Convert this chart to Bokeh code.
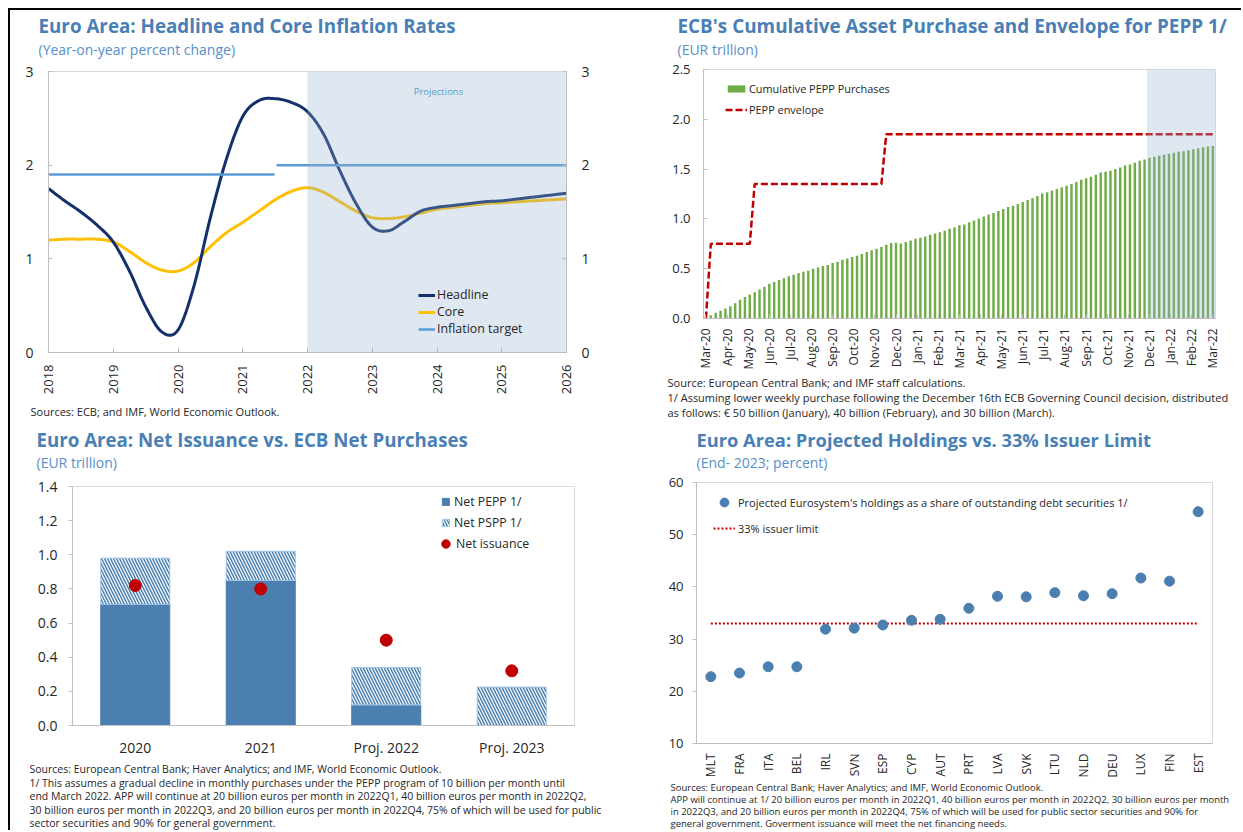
import numpy as np
from bokeh.plotting import figure
from bokeh.models import (ColumnDataSource, FixedTicker, LinearAxis, Label, Legend,
                          LegendItem, BoxAnnotation, FactorRange, Range1d, NumeralTickFormatter)
from bokeh.layouts import row, column
from bokeh.embed import file_html
from bokeh.resources import INLINE

# ---------------- DATA ----------------
# Panel 1: inflation (quarterly readings, year fraction)
infl_x = [2018.00, 2018.25, 2018.50, 2018.75, 2019.00, 2019.25, 2019.50, 2019.75,
          2020.00, 2020.25, 2020.50, 2020.75, 2021.00, 2021.25, 2021.50, 2021.75,
          2022.00, 2022.25, 2022.50, 2022.75, 2023.00, 2023.25, 2023.50, 2023.75,
          2024.00, 2024.25, 2024.50, 2024.75, 2025.00, 2025.25, 2025.50, 2025.75, 2026.00]
headline = [1.75, 1.62, 1.50, 1.36, 1.18, 0.87, 0.49, 0.22,
            0.24, 0.72, 1.44, 2.07, 2.52, 2.69, 2.71, 2.67,
            2.57, 2.33, 1.94, 1.59, 1.34, 1.30, 1.40, 1.51,
            1.55, 1.57, 1.59, 1.61, 1.62, 1.64, 1.66, 1.68, 1.70]
core = [1.20, 1.21, 1.21, 1.21, 1.18, 1.08, 0.96, 0.88,
        0.87, 0.96, 1.13, 1.28, 1.39, 1.51, 1.63, 1.72,
        1.76, 1.71, 1.61, 1.51, 1.44, 1.43, 1.45, 1.49,
        1.53, 1.55, 1.57, 1.59, 1.60, 1.61, 1.62, 1.63, 1.64]
target_x0 = [2018.0, 2021.52]
target_x1 = [2021.49, 2026.0]
target_val = [1.9, 2.0]
infl_years = [2018, 2019, 2020, 2021, 2022, 2023, 2024, 2025, 2026]
proj_start_year = 2022

# Panel 2: weekly cumulative PEPP purchases (weeks 1..104 after Mar-20)
pepp_cum = [0.033, 0.057, 0.077, 0.100, 0.123, 0.153, 0.187, 0.217, 0.240, 0.263,
            0.290, 0.320, 0.350, 0.367, 0.387, 0.403, 0.423, 0.440, 0.457, 0.470,
            0.480, 0.500, 0.513, 0.527, 0.537, 0.557, 0.567, 0.590, 0.603, 0.617,
            0.630, 0.647, 0.667, 0.685, 0.700, 0.718, 0.740, 0.757, 0.760, 0.753,
            0.767, 0.783, 0.800, 0.810, 0.823, 0.840, 0.853, 0.867, 0.880, 0.900,
            0.917, 0.937, 0.943, 0.967, 0.983, 1.003, 1.023, 1.043, 1.060, 1.080,
            1.100, 1.120, 1.133, 1.150, 1.170, 1.190, 1.210, 1.230, 1.255, 1.268,
            1.283, 1.300, 1.317, 1.333, 1.350, 1.370, 1.393, 1.407, 1.423, 1.443,
            1.467, 1.473, 1.483, 1.500, 1.517, 1.537, 1.547, 1.563, 1.583, 1.597,
            1.613, 1.623, 1.633, 1.643, 1.653, 1.663, 1.673, 1.680, 1.690, 1.700,
            1.710, 1.720, 1.727, 1.733]
env_levels = [0.0, 0.75, 1.35, 1.85]
env_start_week = [0, 1, 10, 37]
proj_first_week = 91
month_labels = ["Mar-20", "Apr-20", "May-20", "Jun-20", "Jul-20", "Aug-20", "Sep-20",
                "Oct-20", "Nov-20", "Dec-20", "Jan-21", "Feb-21", "Mar-21", "Apr-21",
                "May-21", "Jun-21", "Jul-21", "Aug-21", "Sep-21", "Oct-21", "Nov-21",
                "Dec-21", "Jan-22", "Feb-22", "Mar-22"]

# Panel 3: net issuance vs ECB net purchases
ni_cats = ["2020", "2021", "Proj. 2022", "Proj. 2023"]
net_pepp = [0.71, 0.85, 0.12, 0.0]
net_pspp = [0.27, 0.17, 0.22, 0.225]
net_issuance = [0.82, 0.80, 0.50, 0.32]

# Panel 4: projected holdings
countries = ["MLT", "FRA", "ITA", "BEL", "IRL", "SVN", "ESP", "CYP", "AUT",
             "PRT", "LVA", "SVK", "LTU", "NLD", "DEU", "LUX", "FIN", "EST"]
holdings = [22.8, 23.5, 24.7, 24.7, 31.9, 32.1, 32.7, 33.6, 33.8,
            35.9, 38.2, 38.1, 38.9, 38.3, 38.7, 41.7, 41.1, 54.4]
issuer_limit = 33

# ---------------- STYLE ----------------
FONT = "Open Sans"
TITLE_C = "#4a7fb5"
SUB_C = "#5590c8"
TXT_C = "#262626"
AX_C = "#bfbfbf"
NAVY = "#13306b"
GOLD = "#ffc000"
LBLUE = "#5b9bd5"
STEEL = "#4a7fb0"
RED = "#c00000"
GREEN = "#70ad47"
SHADE = "#94afd0"


def base_fig(w, h, bl, br, bt, bb, xr, yr):
    p = figure(width=w, height=h, x_range=xr, y_range=yr, min_border_left=bl,
               min_border_right=br, min_border_top=bt, min_border_bottom=bb,
               toolbar_location=None, tools="", output_backend="svg", title_location=None)
    p.grid.visible = False
    p.outline_line_color = "#d9d9d9"
    p.border_fill_color = "white"
    p.background_fill_color = "white"
    return p


class TextBox:
    """A bare figure used only to hold titles / notes; page coordinates in."""
    def __init__(self, page_x, page_y, w, h):
        self.x0, self.y0, self.h = page_x, page_y, h
        f = figure(width=w, height=h, x_range=(0, 1), y_range=(0, 1), min_border=0,
                   toolbar_location=None, tools="", output_backend="svg",
                   x_axis_type=None, y_axis_type=None, title_location=None)
        f.outline_line_color = None
        f.border_fill_color = "white"
        f.background_fill_color = "white"
        self.fig = f

    def text(self, px, baseline, text, size, color=TXT_C, bold=False):
        y = self.y0 + self.h - (baseline - 0.39 * size)
        self.fig.add_layout(Label(x=px - self.x0, y=y, x_units="screen",
                                  y_units="screen", text=text, text_font=FONT,
                                  text_font_size=f"{size}px", text_color=color,
                                  text_font_style="bold" if bold else "normal",
                                  text_align="left", text_baseline="alphabetic"))


def style_axis(ax, size="14px", tin=0, tout=0, standoff=10):
    ax.axis_line_color = AX_C
    ax.major_tick_line_color = AX_C
    ax.minor_tick_line_color = None
    ax.major_tick_in = tin
    ax.major_tick_out = tout
    ax.major_label_text_font = FONT
    ax.major_label_text_font_size = size
    ax.major_label_text_color = TXT_C
    ax.major_label_standoff = standoff


def style_legend(lg, size="12px"):
    lg.label_text_font = FONT
    lg.label_text_font_size = size
    lg.label_text_color = TXT_C
    lg.border_line_color = None
    lg.background_fill_alpha = 0
    lg.padding = 0
    lg.margin = 0


def excel_smooth(xs, ys, steps=16):
    xs = np.asarray(xs, float)
    ys = np.asarray(ys, float)
    n = len(xs)
    ox, oy = [], []
    t = np.linspace(0, 1, steps, endpoint=False)
    for i in range(n - 1):
        i0, i3 = max(i - 1, 0), min(i + 2, n - 1)
        c1x = xs[i] + (xs[i + 1] - xs[i0]) / 6
        c1y = ys[i] + (ys[i + 1] - ys[i0]) / 6
        c2x = xs[i + 1] - (xs[i3] - xs[i]) / 6
        c2y = ys[i + 1] - (ys[i3] - ys[i]) / 6
        b0, b1, b2, b3 = (1 - t) ** 3, 3 * (1 - t) ** 2 * t, 3 * (1 - t) * t ** 2, t ** 3
        ox.extend(b0 * xs[i] + b1 * c1x + b2 * c2x + b3 * xs[i + 1])
        oy.extend(b0 * ys[i] + b1 * c1y + b2 * c2y + b3 * ys[i + 1])
    ox.append(xs[-1])
    oy.append(ys[-1])
    return ox, oy


def stack(*figs):
    return column(*[column(f) for f in figs])


LW, RW = 610, 621   # column widths (page x 10..620, 620..1241)

# ================= Panel 1 (page x 10..620, y 10..420) =================
h1 = TextBox(10, 10, LW, 51)
h1.text(38, 33, "Euro Area: Headline and Core Inflation Rates", 18.8, TITLE_C, bold=True)
h1.text(38, 54, "(Year-on-year percent change)", 14, SUB_C)

tl = base_fig(LW, 336, 38, 54, 10, 45, Range1d(infl_years[0], infl_years[-1]), Range1d(0, 3))
hx, hy = excel_smooth(infl_x, headline)
cx, cy = excel_smooth(infl_x, core)
r_core = tl.line(cx, cy, line_color=GOLD, line_width=3)
r_head = tl.line(hx, hy, line_color=NAVY, line_width=3)
r_tgt = tl.segment(x0=target_x0, x1=target_x1, y0=target_val, y1=target_val,
                   line_color=LBLUE, line_width=2.5)
tl.add_layout(BoxAnnotation(left=proj_start_year, fill_color=SHADE, fill_alpha=0.3,
                            line_color=None, level="overlay"))
tl.yaxis.ticker = FixedTicker(ticks=[0, 1, 2, 3])
style_axis(tl.yaxis[0], "14px", tin=4, standoff=15)
ry = LinearAxis(ticker=FixedTicker(ticks=[0, 1, 2, 3]))
style_axis(ry, "14px", tin=4, standoff=15)
tl.add_layout(ry, "right")
tl.xaxis.ticker = FixedTicker(ticks=infl_years)
style_axis(tl.xaxis[0], "13px", tin=5, standoff=12)
tl.xaxis.major_label_orientation = np.pi / 2
lg1 = Legend(items=[LegendItem(label="Headline", renderers=[r_head]),
                    LegendItem(label="Core", renderers=[r_core]),
                    LegendItem(label="Inflation target", renderers=[r_tgt])],
             location=(370, 15), glyph_width=17, glyph_height=14, label_standoff=2,
             label_height=14, spacing=0)
style_legend(lg1, "12.4px")
tl.add_layout(lg1)
tl.add_layout(Label(x=390, y=261, x_units="screen", y_units="screen", text="Projections",
                    text_font=FONT, text_font_size="9.5px", text_color="#3a95b8",
                    text_align="center", text_baseline="middle"))

f1 = TextBox(10, 397, LW, 23)
f1.text(30, 415, "Sources: ECB; and IMF, World Economic Outlook.", 11)

# ================= Panel 2 (page x 620..1241, y 10..420) =================
h2 = TextBox(620, 10, RW, 49)
h2.text(677, 33, "ECB's Cumulative Asset Purchase and Envelope for PEPP 1/", 18.9, TITLE_C, bold=True)
h2.text(677, 54, "(EUR trillion)", 14, SUB_C)

n_weeks = len(pepp_cum)
wk2m = (len(month_labels) - 1) / n_weeks          # months per week
weeks = np.arange(1, n_weeks + 1)
env_weeks = np.arange(0, n_weeks + 1)
env_vals = [env_levels[max(k for k, s in enumerate(env_start_week) if s <= w)] for w in env_weeks]
tr = base_fig(RW, 313, 83, 26, 10, 53,
              Range1d(-0.5 * wk2m, (n_weeks + 0.55) * wk2m), Range1d(0, 2.5))
r_bar = tr.vbar(x=weeks * wk2m, top=pepp_cum, width=0.5 * wk2m, fill_color=GREEN,
                line_color=None)
r_env = tr.line(env_weeks * wk2m, env_vals, line_color=RED, line_width=2.5, line_dash="7 3")
tr.add_layout(BoxAnnotation(left=(proj_first_week - 0.5) * wk2m, fill_color=SHADE,
                            fill_alpha=0.3, line_color=None, level="overlay"))
tr.yaxis.ticker = FixedTicker(ticks=[0, 0.5, 1.0, 1.5, 2.0, 2.5])
tr.yaxis.formatter = NumeralTickFormatter(format="0.0")
style_axis(tr.yaxis[0], "13px", tin=4, standoff=13)
tr.xaxis.ticker = FixedTicker(ticks=list(range(len(month_labels))))
tr.xaxis.major_label_overrides = {i: m for i, m in enumerate(month_labels)}
style_axis(tr.xaxis[0], "12px", tin=4, standoff=10)
tr.xaxis.major_label_orientation = np.pi / 2
lg2 = Legend(items=[LegendItem(label="Cumulative PEPP Purchases", renderers=[r_bar]),
                    LegendItem(label="PEPP envelope", renderers=[r_env])],
             location=(22, 198), glyph_width=22, glyph_height=9, label_standoff=2,
             label_height=21, spacing=0)
style_legend(lg2, "10.9px")
tr.add_layout(lg2)

f2 = TextBox(620, 372, RW, 48)
f2.text(667, 386, "Source: European Central Bank; and IMF staff calculations.", 11)
f2.text(667, 401, "1/ Assuming lower weekly purchase following the December 16th ECB Governing Council decision, distributed", 11)
f2.text(667, 416, "as follows: € 50 billion (January), 40 billion (February), and 30 billion (March).", 11)

# ================= Panel 3 (page x 10..620, y 420..830) =================
h3 = TextBox(10, 420, LW, 56)
h3.text(36, 446, "Euro Area: Net Issuance vs. ECB Net Purchases", 18.7, TITLE_C, bold=True)
h3.text(36, 467, "(EUR trillion)", 14, SUB_C)

net_total = [a + b for a, b in zip(net_pepp, net_pspp)]
src3 = ColumnDataSource(dict(cat=ni_cats, pepp=net_pepp, total=net_total, iss=net_issuance))
bl = base_fig(LW, 284, 62, 46, 10, 35, FactorRange(*ni_cats), Range1d(0, 1.4))
r_pepp = bl.vbar(x="cat", top="pepp", width=0.55, source=src3, fill_color=STEEL,
                 line_color=STEEL)
r_pspp = bl.vbar(x="cat", bottom="pepp", top="total", width=0.55, source=src3,
                 fill_color="white", line_color="#9dc3e6", line_width=1,
                 hatch_pattern="\\", hatch_color=STEEL, hatch_scale=6, hatch_weight=1.5)
r_iss = bl.scatter(x="cat", y="iss", source=src3, size=12, fill_color=RED, line_color=RED)
bl.yaxis.ticker = FixedTicker(ticks=[0, 0.2, 0.4, 0.6, 0.8, 1.0, 1.2, 1.4])
bl.yaxis.formatter = NumeralTickFormatter(format="0.0")
style_axis(bl.yaxis[0], "14px", tout=4, standoff=11)
style_axis(bl.xaxis[0], "14px", standoff=12)
lg3 = Legend(items=[LegendItem(label="Net PEPP 1/", renderers=[r_pepp]),
                    LegendItem(label="Net PSPP 1/", renderers=[r_pspp])],
             location=(369, 192), glyph_width=9, glyph_height=9, label_standoff=4,
             label_height=21, spacing=0)
style_legend(lg3, "12.3px")
bl.add_layout(lg3)
lg3b = Legend(items=[LegendItem(label="Net issuance", renderers=[r_iss])],
              location=(363, 171), glyph_width=21, glyph_height=21, label_standoff=-2,
              label_height=21, spacing=0)
style_legend(lg3b, "12.3px")
bl.add_layout(lg3b)

f3 = TextBox(10, 760, LW, 70)
fn3 = ["Sources: European Central Bank; Haver Analytics; and IMF, World Economic Outlook.",
       "1/ This assumes a gradual decline in monthly purchases under the PEPP program of 10 billion per month until",
       "end  March 2022. APP will continue at 20 billion euros per month in 2022Q1, 40 billion euros per month in 2022Q2,",
       "30 billion euros per month in 2022Q3, and 20 billion euros per month in 2022Q4, 75% of which will be used for public",
       "sector securities and 90% for general government."]
for i, t in enumerate(fn3):
    f3.text(29, 773 + 13.4 * i, t, 10.5)

# ================= Panel 4 (page x 620..1241, y 420..830) =================
h4 = TextBox(620, 420, RW, 52)
h4.text(696, 446, "Euro Area: Projected Holdings vs. 33% Issuer Limit", 18.3, TITLE_C, bold=True)
h4.text(696, 467, "(End- 2023; percent)", 14, SUB_C)

src4 = ColumnDataSource(dict(c=countries, v=holdings, lim=[issuer_limit] * len(countries)))
br = base_fig(RW, 308, 76, 29, 10, 36, FactorRange(*countries), Range1d(10, 60))
r_lim = br.line(x="c", y="lim", source=src4, line_color=RED, line_width=2, line_dash="2 2")
r_hold = br.scatter(x="c", y="v", source=src4, size=10, fill_color=STEEL, line_color=STEEL)
br.yaxis.ticker = FixedTicker(ticks=[10, 20, 30, 40, 50, 60])
style_axis(br.yaxis[0], "13px", tout=4, standoff=9)
style_axis(br.xaxis[0], "12px", standoff=10)
br.xaxis.major_label_orientation = np.pi / 2
lg4 = Legend(items=[LegendItem(label="Projected Eurosystem's holdings as a share of outstanding debt securities 1/",
                               renderers=[r_hold]),
                    LegendItem(label="33% issuer limit", renderers=[r_lim])],
             location=(17, 204), glyph_width=22, glyph_height=22, label_standoff=3,
             label_height=22, spacing=4)
style_legend(lg4, "11px")
br.add_layout(lg4)

f4 = TextBox(620, 780, RW, 50)
fn4 = ["Sources:  European Central Bank; Haver Analytics; and IMF, World Economic Outlook.",
       "APP will continue at 1/ 20 billion euros per month in 2022Q1, 40 billion euros per month in 2022Q2, 30 billion euros per month",
       "in 2022Q3, and 20 billion euros per month in 2022Q4, 75% of which will be used for public sector securities and 90% for",
       "general government. Goverment issuance will meet the net financing needs."]
for i, t in enumerate(fn4):
    f4.text(670, 791 + 12 * i, t, 9.5)

layout = column(
    row(stack(h1.fig, tl, f1.fig), stack(h2.fig, tr, f2.fig)),
    row(stack(h3.fig, bl, f3.fig), stack(h4.fig, br, f4.fig)),
    styles={"margin-left": "8px", "margin-top": "8px",
            "border-left": "2px solid black", "border-top": "2px solid black"})
open("out.html", "w").write(file_html(layout, INLINE))
